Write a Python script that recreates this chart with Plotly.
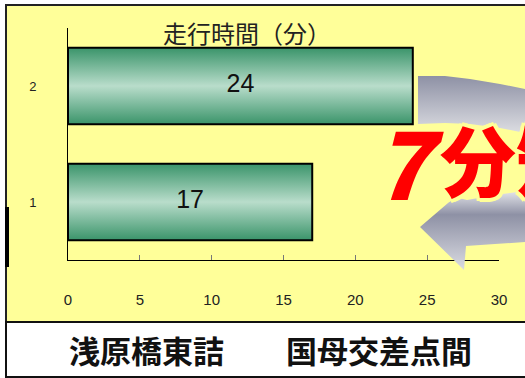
import plotly.graph_objects as go

# ---- data ----
categories = ["1", "2"]
travel_minutes = [17, 24]
chart_title = "走行時間（分）"
route_label = "浅原橋東詰　　国母交差点間"
saving_number = "7"
saving_unit = "分短縮"
x_ticks = [0, 5, 10, 15, 20, 25, 30]

W, H = 525, 378
JP = "Noto Sans CJK JP"

def px(x):
    return x / W

def py(y):
    return 1 - y / H

fig = go.Figure()

# decorative grey U-turn arrow on a full-page overlay axis
upper_band_x = [418, 445, 470, 500, 525, 525, 500, 470, 445, 418]
upper_band_y = [76, 76, 79, 84, 89, 133, 128, 124, 123, 124]
lower_arrow_x = [420, 455, 467, 495, 525, 525, 495, 466, 464, 420]
lower_arrow_y = [227, 197, 200, 195, 191, 242, 244, 246, 270, 227]
for xs, ys, cs in [
    (upper_band_x, upper_band_y, [[0, "#DCDDE2"], [1, "#8E91A5"]]),
    (lower_arrow_x, lower_arrow_y, [[0, "#DADBE2"], [0.7, "#8E91A5"], [1, "#E4E5EA"]]),
]:
    fig.add_trace(go.Scatter(
        x=xs, y=ys, xaxis="x2", yaxis="y2", mode="lines", fill="toself",
        line=dict(width=0, color="rgba(0,0,0,0)"),
        fillgradient=dict(type="vertical", colorscale=cs),
        hoverinfo="skip", showlegend=False,
    ))

# bars with vertical gradient
half = 0.33
for i, (cat, val) in enumerate(zip(categories, travel_minutes)):
    pos = i + 1
    fig.add_trace(go.Scatter(
        x=[0, val, val, 0, 0],
        y=[pos - half, pos - half, pos + half, pos + half, pos - half],
        mode="lines", fill="toself",
        line=dict(color="black", width=2),
        fillgradient=dict(type="vertical",
                          colorscale=[[0, "#3A946A"], [0.5, "#B9DDCB"], [1, "#3A946A"]]),
        hoverinfo="skip", showlegend=False,
    ))
    fig.add_trace(go.Scatter(
        x=[val / 2], y=[pos], mode="text", text=[str(val)],
        textfont=dict(size=25, color="#111", family="Liberation Sans, Arial"),
        hoverinfo="skip", showlegend=False,
    ))

shapes = [
    # yellow chart area frame
    dict(type="rect", xref="paper", yref="paper", x0=px(6), x1=px(530), y0=py(322), y1=py(5),
         fillcolor="#FFFF99", line=dict(color="#222", width=2), layer="below"),
    # white caption box
    dict(type="rect", xref="paper", yref="paper", x0=px(6), x1=px(530), y0=py(377), y1=py(322),
         fillcolor="white", line=dict(color="#111", width=2), layer="below"),
    # thick left mark
    dict(type="line", xref="paper", yref="paper", x0=px(7), x1=px(7), y0=py(267), y1=py(207),
         line=dict(color="black", width=4)),
]

glow = ", ".join(f"{dx}px {dy}px 0 #FFFF99" for dx, dy in
                 [(3, 3), (-3, -3), (3, -3), (-3, 3), (0, 4), (0, -4), (4, 0), (-4, 0)])

annotations = [
    dict(text=chart_title, xref="paper", yref="paper", x=px(247), y=py(32),
         xanchor="center", yanchor="middle",
         showarrow=False, font=dict(size=24, color="#222", family=JP)),
    dict(text=route_label, xref="paper", yref="paper", x=px(67), y=py(349),
         xanchor="left", yanchor="middle",
         showarrow=False, font=dict(size=31, color="#111", family=JP, weight="bold")),
    dict(text=saving_number, xref="paper", yref="paper", x=px(372), y=py(159),
         xanchor="left", yanchor="middle",
         showarrow=False,
         font=dict(size=94, color="#FF0000", family=JP, weight=900, style="italic", shadow=glow)),
    dict(text=saving_unit, xref="paper", yref="paper", x=px(438), y=py(158),
         xanchor="left", yanchor="middle",
         showarrow=False,
         font=dict(size=76, color="#FF0000", family=JP, weight=900, shadow=glow)),
]

fig.update_layout(
    width=W, height=H,
    margin=dict(l=0, r=0, t=0, b=0, pad=0),
    paper_bgcolor="white",
    plot_bgcolor="rgba(0,0,0,0)",
    showlegend=False,
    shapes=shapes,
    annotations=annotations,
    xaxis=dict(domain=[px(68), px(499)], range=[0, 30], tickvals=x_ticks,
               showline=True, linecolor="black", linewidth=1,
               ticks="inside", ticklen=5, tickcolor="#777", tickwidth=1,
               showgrid=False, zeroline=False, ticklabelstandoff=26,
               tickfont=dict(size=15, color="#222", family="Liberation Sans, Arial"),
               fixedrange=True, anchor="y", automargin=False),
    yaxis=dict(domain=[py(260), py(28)], range=[0.5, 2.5],
               tickvals=[1, 2], ticktext=categories,
               showline=True, linecolor="black", linewidth=1, ticks="",
               showgrid=False, zeroline=False, ticklabelstandoff=28,
               tickfont=dict(size=13, color="#222", family="Liberation Sans, Arial"),
               fixedrange=True, anchor="x", automargin=False),
    xaxis2=dict(domain=[0, 1], range=[0, W], visible=False, anchor="y2", fixedrange=True),
    yaxis2=dict(domain=[0, 1], range=[H, 0], visible=False, anchor="x2", fixedrange=True),
)

fig.write_html(
    "out.html",
    config={"displayModeBar": False, "responsive": False},
    post_script="document.body.style.margin='0';document.body.style.overflow='hidden';",
)
